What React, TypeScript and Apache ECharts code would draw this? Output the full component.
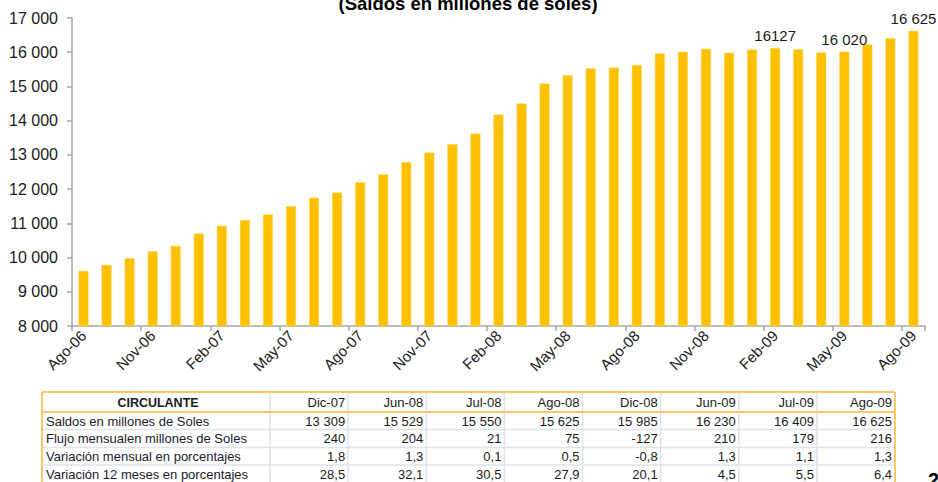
import React, { useEffect, useRef } from "react";
import * as echarts from "echarts";

const months: string[] = [
  "Ago-06", "Sep-06", "Oct-06", "Nov-06", "Dic-06", "Ene-07", "Feb-07", "Mar-07", "Abr-07", "May-07",
  "Jun-07", "Jul-07", "Ago-07", "Sep-07", "Oct-07", "Nov-07", "Dic-07", "Ene-08", "Feb-08", "Mar-08",
  "Abr-08", "May-08", "Jun-08", "Jul-08", "Ago-08", "Sep-08", "Oct-08", "Nov-08", "Dic-08", "Ene-09",
  "Feb-09", "Mar-09", "Abr-09", "May-09", "Jun-09", "Jul-09", "Ago-09",
];

const saldos: number[] = [
  9610, 9785, 9980, 10185, 10340, 10700, 10930, 11100, 11260, 11500,
  11750, 11900, 12200, 12435, 12790, 13070, 13309, 13625, 14180, 14500,
  15085, 15330, 15529, 15550, 15625, 15965, 16015, 16100, 15985, 16080,
  16127, 16085, 15990, 16020, 16230, 16409, 16625,
];

const labeledMonths: string[] = ["Feb-09", "May-09", "Ago-09"];

const tableTitle = "CIRCULANTE";
const tableCols: string[] = ["Dic-07", "Jun-08", "Jul-08", "Ago-08", "Dic-08", "Jun-09", "Jul-09", "Ago-09"];
const rowLabels: string[] = [
  "Saldos en millones de Soles",
  "Flujo mensualen millones de Soles",
  "Variación mensual en porcentajes",
  "Variación 12 meses en porcentajes",
];
const rowSaldos: string[] = ["13 309", "15 529", "15 550", "15 625", "15 985", "16 230", "16 409", "16 625"];
const rowFlujo: string[] = ["240", "204", "21", "75", "-127", "210", "179", "216"];
const rowVarMensual: string[] = ["1,8", "1,3", "0,1", "0,5", "-0,8", "1,3", "1,1", "1,3"];
const rowVar12: string[] = ["28,5", "32,1", "30,5", "27,9", "20,1", "4,5", "5,5", "6,4"];
const tableRows: string[][] = [rowSaldos, rowFlujo, rowVarMensual, rowVar12];

const FONT = "'Liberation Sans', Arial, sans-serif";

function fmtThousands(v: number): string {
  const s = String(Math.round(v));
  return s.replace(/\B(?=(\d{3})+(?!\d))/g, " ");
}

function buildTable(): any[] {
  const els: any[] = [];
  const left = 42;
  const firstColRight = 270;
  const right = 895;
  const colW = (right - firstColRight) / tableCols.length;
  const top = 392;
  const headerBottom = 412;
  const rowLines = [429.5, 447.5, 465];
  const rowCenters = [421, 438.5, 456.5, 474];
  const gray = "#dfe3ec";
  const orange = "#f9c66b";

  rowLines.forEach((y) => {
    els.push({ type: "line", shape: { x1: left, y1: y, x2: right, y2: y }, style: { stroke: gray, lineWidth: 1.5 }, silent: true });
  });
  for (let i = 0; i < tableCols.length; i++) {
    const x = firstColRight + i * colW;
    els.push({ type: "line", shape: { x1: x, y1: top, x2: x, y2: 482 }, style: { stroke: gray, lineWidth: 1.5 }, silent: true });
  }
  els.push({ type: "line", shape: { x1: left, y1: top, x2: right, y2: top }, style: { stroke: orange, lineWidth: 2 }, silent: true });
  els.push({ type: "line", shape: { x1: left, y1: headerBottom, x2: right, y2: headerBottom }, style: { stroke: orange, lineWidth: 2 }, silent: true });
  els.push({ type: "line", shape: { x1: left, y1: top, x2: left, y2: 482 }, style: { stroke: orange, lineWidth: 2 }, silent: true });
  els.push({ type: "line", shape: { x1: right, y1: top, x2: right, y2: 482 }, style: { stroke: orange, lineWidth: 2 }, silent: true });

  els.push({
    type: "text", x: (left + firstColRight) / 2 + 2, y: (top + headerBottom) / 2 + 0.5,
    style: { text: tableTitle, font: `bold 12.5px ${FONT}`, fill: "#1a1a1a", textAlign: "center", textVerticalAlign: "middle" },
  });
  tableCols.forEach((c, i) => {
    els.push({
      type: "text", x: firstColRight + (i + 1) * colW - 3, y: (top + headerBottom) / 2 + 0.5,
      style: { text: c, font: `13px ${FONT}`, fill: "#1a1a1a", textAlign: "right", textVerticalAlign: "middle" },
    });
  });
  rowLabels.forEach((lab, r) => {
    els.push({
      type: "text", x: left + 4, y: rowCenters[r],
      style: { text: lab, font: `13px ${FONT}`, fill: "#231a2b", textAlign: "left", textVerticalAlign: "middle" },
    });
    tableRows[r].forEach((v, i) => {
      els.push({
        type: "text", x: firstColRight + (i + 1) * colW - 3, y: rowCenters[r],
        style: { text: v, font: `13px ${FONT}`, fill: "#1a1a1a", textAlign: "right", textVerticalAlign: "middle" },
      });
    });
  });
  return els;
}

export default function App() {
  const ref = useRef<HTMLDivElement>(null);
  useEffect(() => {
    document.body.style.margin = "0";
    if (!ref.current) return;
    const chart = echarts.init(ref.current, null, { renderer: "svg" });
    const option: any = {
      animation: false,
      backgroundColor: "#ffffff",
      textStyle: { fontFamily: FONT },
      grid: { left: 72, right: 13, top: 18, bottom: 156, containLabel: false },
      xAxis: {
        type: "category",
        data: months,
        boundaryGap: true,
        axisLine: { show: true, lineStyle: { color: "#a6a6a6", width: 1.5 } },
        axisTick: { show: true, interval: 2, length: 5, lineStyle: { color: "#a6a6a6", width: 1.5 } },
        axisLabel: { interval: 2, rotate: 45, margin: 7, fontSize: 15, color: "#1a1a1a", fontFamily: FONT },
      },
      yAxis: {
        type: "value",
        min: 8000,
        max: 17000,
        interval: 1000,
        axisLine: { show: true, lineStyle: { color: "#a6a6a6", width: 1.5 } },
        axisTick: { show: true, length: 5, lineStyle: { color: "#a6a6a6", width: 1.5 } },
        splitLine: { show: false },
        axisLabel: { fontSize: 16, color: "#1a1a1a", margin: 14, fontFamily: FONT, formatter: (v: number) => fmtThousands(v) },
      },
      series: [
        {
          type: "bar",
          data: saldos.map((v, i) => ({
            value: v,
            label: labeledMonths.includes(months[i])
              ? {
                  show: true,
                  position: "top",
                  distance: 5,
                  fontSize: 15,
                  color: "#1a1a1a",
                  fontFamily: FONT,
                  formatter: months[i] === "Feb-09" ? String(v) : fmtThousands(v),
                }
              : { show: false },
          })),
          barWidth: 10,
          itemStyle: { color: "#ffc000", borderColor: "#ffd966", borderWidth: 0.5 },
        },
      ],
      graphic: [
        {
          type: "text", x: 468, y: 13,
          style: { text: "(Saldos en millones de soles)", font: `bold 18.5px ${FONT}`, fill: "#000", textAlign: "center", textVerticalAlign: "bottom" },
        },
        ...buildTable(),
        {
          type: "text", x: 928, y: 470,
          style: { text: "2", font: `bold 20px ${FONT}`, fill: "#000", textAlign: "left", textVerticalAlign: "top" },
        },
      ],
    };
    chart.setOption(option);
    return () => chart.dispose();
  }, []);
  return <div ref={ref} style={{ width: 938, height: 482 }} />;
}
